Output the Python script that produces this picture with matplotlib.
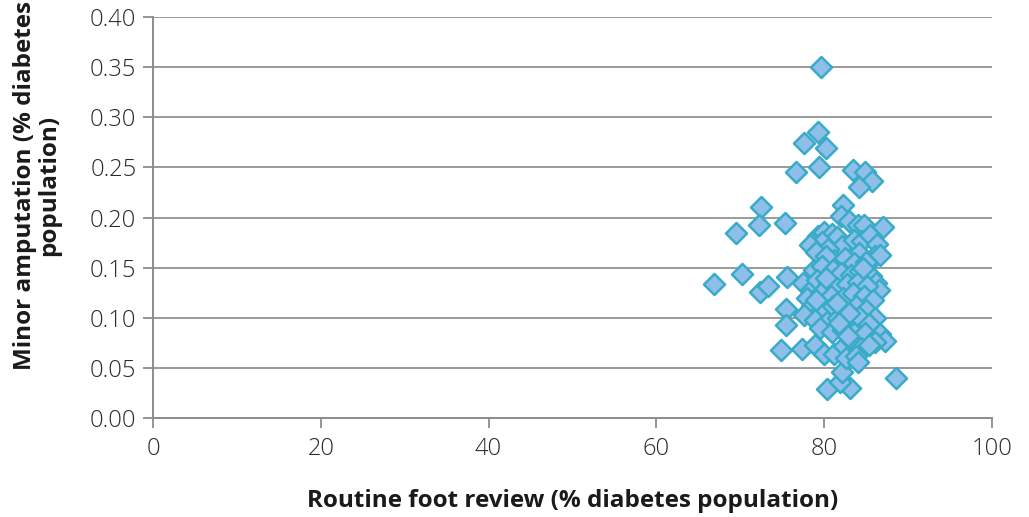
import matplotlib
matplotlib.use('Agg')
import matplotlib.pyplot as plt

plt.rcParams['font.family'] = ['Open Sans', 'DejaVu Sans']

# Routine foot review (% diabetes population) vs minor amputation (% diabetes population)
foot_review = [
    79.6, 79.3, 77.6, 80.2, 76.6, 79.4, 83.4, 84.9, 85.7, 84.1,
    72.5, 82.3, 69.5, 72.2, 75.3, 66.9, 70.2, 72.3, 73.3, 75.6,
    75.5, 75.5, 74.8, 77.3, 88.6, 80.3, 83.1, 81.9, 82.1,
    82.0, 83.0, 84.0, 84.8, 87.0, 79.3, 80.0, 80.9, 81.5, 78.6,
    79.8, 82.1, 83.5, 84.5, 85.5, 86.3, 86.0, 86.6, 84.2, 80.5,
    81.2, 78.3, 79.0, 80.2, 82.5, 83.6, 85.0, 78.8, 79.7, 81.0,
    82.0, 83.2, 84.3, 85.6, 86.2, 86.5, 77.5, 78.4, 77.9, 79.2,
    80.6, 81.5, 82.7, 84.0, 85.1, 79.6, 80.8, 82.2, 83.4, 84.7,
    85.8, 78.6, 79.8, 81.0, 82.4, 83.8, 85.0, 86.1, 77.6, 78.9,
    80.3, 81.6, 82.9, 84.2, 85.4, 79.5, 80.9, 82.2, 83.6, 84.9,
    86.6, 87.2, 86.0, 78.9, 80.0, 81.2, 82.4, 83.2, 84.4, 85.4,
    82.6, 83.8, 84.0, 81.5, 83.0, 80.2, 81.8, 84.6, 79.0, 82.8,
]
minor_amputation = [
    0.350, 0.285, 0.274, 0.269, 0.245, 0.250, 0.247, 0.245, 0.236, 0.230,
    0.211, 0.212, 0.185, 0.193, 0.195, 0.134, 0.144, 0.126, 0.132, 0.141,
    0.109, 0.093, 0.068, 0.069, 0.040, 0.029, 0.030, 0.036, 0.046,
    0.202, 0.197, 0.193, 0.193, 0.191, 0.182, 0.186, 0.184, 0.181, 0.175,
    0.176, 0.172, 0.178, 0.177, 0.183, 0.174, 0.162, 0.163, 0.165, 0.169,
    0.158, 0.173, 0.166, 0.162, 0.160, 0.155, 0.156, 0.148, 0.152, 0.148,
    0.145, 0.143, 0.147, 0.142, 0.135, 0.128, 0.135, 0.128, 0.120, 0.138,
    0.135, 0.130, 0.134, 0.136, 0.132, 0.125, 0.122, 0.120, 0.125, 0.122,
    0.118, 0.112, 0.108, 0.112, 0.108, 0.112, 0.108, 0.100, 0.103, 0.098,
    0.096, 0.100, 0.095, 0.101, 0.094, 0.090, 0.086, 0.088, 0.085, 0.085,
    0.084, 0.077, 0.076, 0.073, 0.064, 0.064, 0.072, 0.078, 0.070, 0.073,
    0.060, 0.062, 0.056, 0.115, 0.105, 0.140, 0.095, 0.150, 0.118, 0.082,
]

fig = plt.figure(figsize=(10.29, 5.17), dpi=100)
ax = fig.add_axes([0.1487, 0.1915, 0.8153, 0.7755])

ax.scatter(foot_review, minor_amputation, marker='D', s=115,
           facecolor='#8dbfe8', edgecolor='#38abc9', linewidth=1.8, zorder=3)

ax.set_xlim(0, 100)
ax.set_ylim(0, 0.40)
ax.set_xticks([0, 20, 40, 60, 80, 100])
ax.set_yticks([i * 0.05 for i in range(9)])
ax.set_yticklabels(['%.2f' % (i * 0.05) for i in range(9)])

ax.grid(axis='y', color='#9a9a9a', linewidth=1.4, zorder=0)
ax.set_axisbelow(True)
for s in ['top', 'right']:
    ax.spines[s].set_visible(False)
for s in ['left', 'bottom']:
    ax.spines[s].set_color('#8c8c8c')
    ax.spines[s].set_linewidth(1.4)

ax.tick_params(axis='both', colors='#8c8c8c', labelcolor='#2a2a2a',
               labelsize=17, length=7, width=1.3)
ax.tick_params(axis='y', pad=5)
ax.tick_params(axis='x', pad=7)
for lab in ax.get_xticklabels() + ax.get_yticklabels():
    lab.set_fontweight('light')

ax.set_xlabel('Routine foot review (% diabetes population)', fontsize=17.5,
              fontweight='bold', color='#1a1a1a', labelpad=20)
ax.set_ylabel('Minor amputation (% diabetes\npopulation)', fontsize=17.5,
              fontweight='bold', color='#1a1a1a', linespacing=1.0)
# label sits a bit above the axes centre in the original
ax.yaxis.set_label_coords(-0.11, 0.58)

fig.savefig('out.png', dpi=100)
